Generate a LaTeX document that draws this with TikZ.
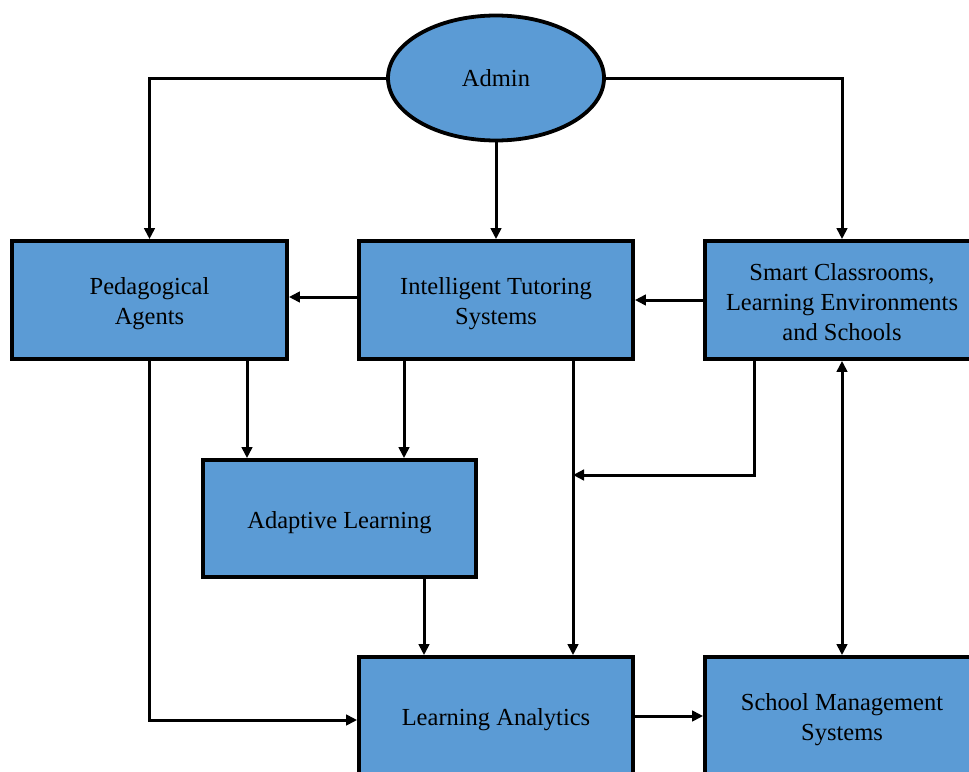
\documentclass[tikz,border=0pt]{standalone}
\usepackage{fontspec}
\setmainfont{Liberation Serif}
\usetikzlibrary{arrows.meta,shapes.geometric}
\definecolor{boxblue}{RGB}{91,155,213}
\begin{document}
\begin{tikzpicture}[x=1pt,y=-1pt,
  box/.style={draw=black,line width=3.8pt,fill=boxblue,minimum width=274pt,minimum height=118pt,inner sep=0pt},
  txt/.style={align=center,font=\fontsize{24.5}{30}\selectfont,yshift=-4pt,inner sep=0pt},
  oval/.style={ellipse,draw=black,line width=3.8pt,fill=boxblue,minimum width=216pt,minimum height=125pt,inner sep=0pt,font=\fontsize{24.5}{30}\selectfont},
  arr/.style={line width=3pt,-{Triangle[length=11pt,width=10.5pt]}},
  darr/.style={line width=3pt,{Triangle[length=11pt,width=10.5pt]}-{Triangle[length=11pt,width=10.5pt]}}]
\useasboundingbox (0,0) rectangle (969,771);
\clip (0,0) rectangle (969,771);
\node[oval] (admin) at (496,78) {Admin};
\node[box,minimum width=275pt,label={[txt]center:Pedagogical\\Agents}] (ped) at (149.5,300) {};
\node[box,label={[txt]center:Intelligent Tutoring\\Systems}] (its) at (496,300) {};
\node[box,label={[txt,yshift=2pt]center:Smart Classrooms,\\Learning Environments\\and Schools}] (sm) at (842,300) {};
\node[box,minimum width=273pt,minimum height=117pt,label={[txt]center:Adaptive Learning}] (ada) at (339.5,518.5) {};
\node[box,label={[txt]center:Learning Analytics}] (la) at (496,716) {};
\node[box,label={[txt]center:School Management\\Systems}] (sms) at (842,716) {};
\coordinate (j) at (573,475);
\draw[arr] (admin.west) -| (ped.north);
\draw[arr] (admin.south) -- (its.north);
\draw[arr] (admin.east) -| (sm.north);
\draw[arr] ([yshift=3pt]its.west) -- ([yshift=3pt]ped.east);
\draw[arr] (sm.west) -- (its.east);
\draw[arr] ([xshift=97.5pt]ped.south) -- ([xshift=97.5pt]ped.south |- ada.north);
\draw[arr] ([xshift=-92pt]its.south) -- ([xshift=-92pt]its.south |- ada.north);
\draw[arr] (ped.south) |- ([yshift=-4pt]la.west);
\draw[arr] ([xshift=77pt]its.south) -- ([xshift=77pt]its.south |- la.north);
\draw[arr] ([xshift=-88pt]sm.south) |- (j);
\draw[arr] ([xshift=84.5pt]ada.south) -- ([xshift=84.5pt]ada.south |- la.north);
\draw[arr] (la.east) -- (sms.west);
\draw[darr] (sm.south) -- (sms.north);
\end{tikzpicture}
\end{document}
